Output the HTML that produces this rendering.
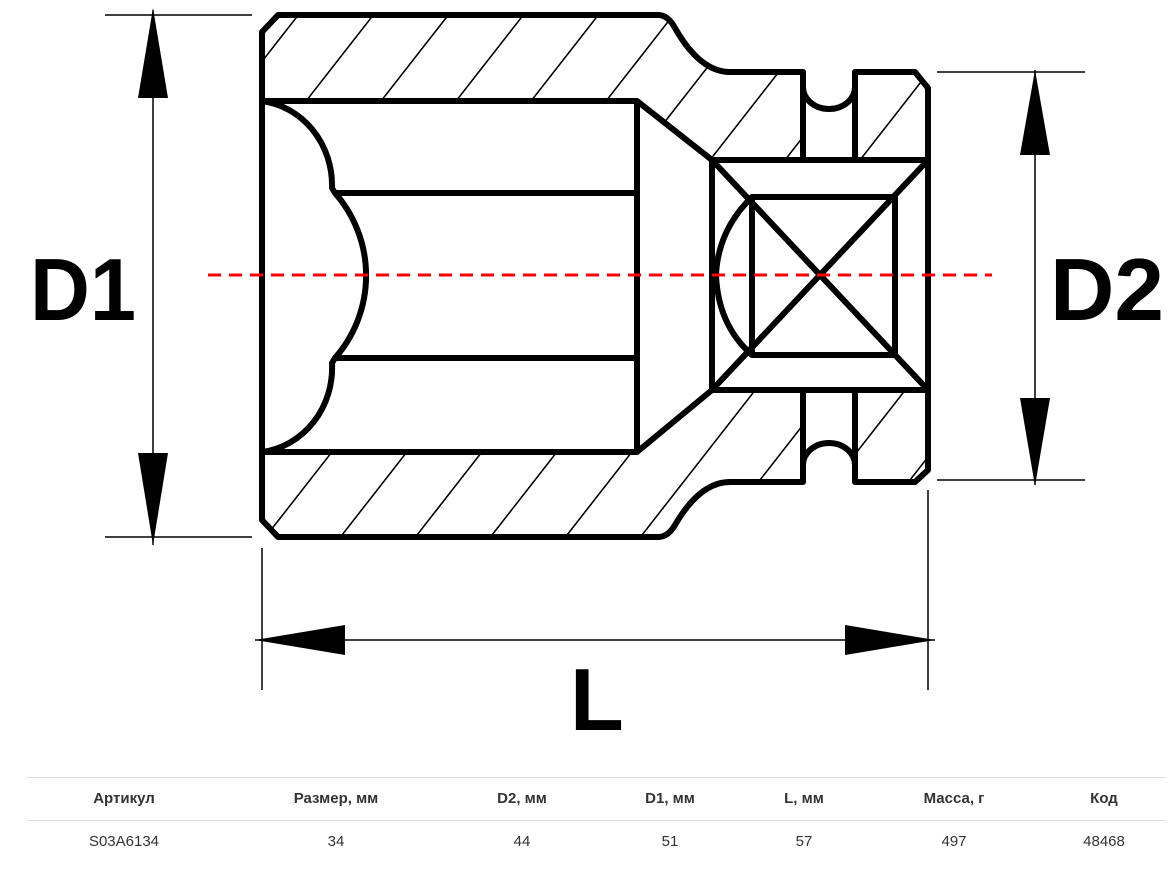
<!DOCTYPE html>
<html><head><meta charset="utf-8"><style>
body{margin:0;background:#fff;width:1176px;height:893px;position:relative;overflow:hidden;font-family:"Liberation Sans","Noto Sans CJK SC",sans-serif}
.t{position:absolute;transform:translateX(-50%);font-size:15px;color:#333;white-space:nowrap}
.h{font-weight:bold;top:790px}
.v{top:833px}
.ln{position:absolute;left:27px;width:1139px;height:1px;background:#ddd}
</style></head><body>
<svg width="1176" height="760" style="position:absolute;left:0;top:0">
<defs>
<pattern id="hp" patternUnits="userSpaceOnUse" width="75" height="600" patternTransform="skewX(-38)">
<line x1="10" y1="0" x2="10" y2="600" stroke="#000" stroke-width="2"/>
</pattern>
</defs>
<g fill="url(#hp)">
<path d="M262,32 L278,15 L658,15 Q668,15 675,28 Q700,72 730,72 L803,72 L803,160 L712,160 L637,101 L262,101 Z"/>
<path d="M855,72 L915,72 L928,88 L928,160 L855,160 Z"/>
<path d="M262,520 L278,537 L658,537 Q668,537 675,525 Q700,482 730,482 L803,482 L803,390 L712,390 L637,452 L262,452 Z"/>
<path d="M855,482 L915,482 L928,470 L928,390 L855,390 Z"/>
</g>
<g fill="none" stroke="#000" stroke-width="6" stroke-linejoin="round">
<path d="M262,32 L278,15 L658,15 Q668,15 675,28 Q700,72 730,72 L803,72 L803,87 A26,22 0 0 0 855,87 L855,72 L915,72 L928,88 L928,470 L915,482 L855,482 L855,465 A26,22 0 0 0 803,465 L803,482 L730,482 Q700,482 675,525 Q668,537 658,537 L278,537 L262,520 Z"/>
<path d="M803,87 L803,160 M855,87 L855,160 M803,390 L803,465 M855,390 L855,465"/>
<path d="M262,101 L637,101 L637,452 L262,452"/>
<path d="M262,101 A80,85 0 0 1 332,188 L335,193 A125,125 0 0 1 335,358 L332,363 A80,85 0 0 1 262,452"/>
<path d="M335,193 L637,193 M335,358 L637,358"/>
<path d="M637,101 L712,160 M637,452 L712,390"/>
<rect x="712" y="160" width="216" height="230"/>
<rect x="752" y="197" width="143" height="158"/>
<path d="M712,160 L928,390 M928,160 L712,390"/>
<path d="M752,197 Q718,230 716,275 Q718,325 752,355"/>
</g>
<line x1="208" y1="275" x2="992" y2="275" stroke="#f00" stroke-width="3" stroke-dasharray="13,8"/>
<g stroke="#000" stroke-width="1.5">
<line x1="105" y1="15" x2="252" y2="15"/><line x1="105" y1="537" x2="252" y2="537"/>
<line x1="153" y1="10" x2="153" y2="545"/>
<line x1="937" y1="72" x2="1085" y2="72"/><line x1="937" y1="480" x2="1085" y2="480"/>
<line x1="1035" y1="70" x2="1035" y2="485"/>
<line x1="262" y1="548" x2="262" y2="690"/><line x1="928" y1="490" x2="928" y2="690"/>
<line x1="255" y1="640" x2="935" y2="640"/>
</g>
<g fill="#000">
<polygon points="153,8 138,98 168,98"/><polygon points="153,545 138,453 168,453"/>
<polygon points="1035,70 1020,155 1050,155"/><polygon points="1035,486 1020,398 1050,398"/>
<polygon points="255,640 345,625 345,655"/><polygon points="935,640 845,625 845,655"/>
</g>
<g font-family="Liberation Sans,sans-serif" font-size="88" font-weight="bold" fill="#000">
<text x="30" y="320" textLength="106" lengthAdjust="spacingAndGlyphs">D1</text>
<text x="1050" y="320" textLength="114" lengthAdjust="spacingAndGlyphs">D2</text>
<text x="570" y="730">L</text>
</g>
</svg>
<div class="ln" style="top:777px"></div>
<div class="ln" style="top:820px"></div>
<div class="t h" style="left:124px">Артикул</div>
<div class="t h" style="left:336px">Размер, мм</div>
<div class="t h" style="left:522px">D2, мм</div>
<div class="t h" style="left:670px">D1, мм</div>
<div class="t h" style="left:804px">L, мм</div>
<div class="t h" style="left:954px">Масса, г</div>
<div class="t h" style="left:1104px">Код</div>
<div class="t v" style="left:124px">S03A6134</div>
<div class="t v" style="left:336px">34</div>
<div class="t v" style="left:522px">44</div>
<div class="t v" style="left:670px">51</div>
<div class="t v" style="left:804px">57</div>
<div class="t v" style="left:954px">497</div>
<div class="t v" style="left:1104px">48468</div>
</body></html>
